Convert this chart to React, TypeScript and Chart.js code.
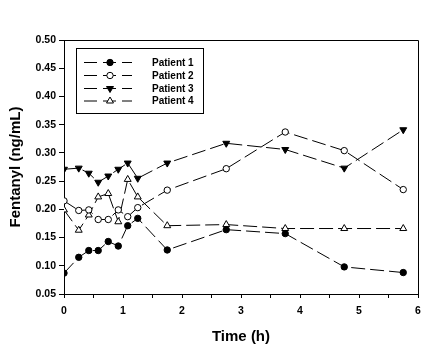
import React, { useEffect, useRef } from "react";
import { Chart, registerables } from "chart.js";

Chart.register(...registerables);

const times = [0, 0.25, 0.42, 0.58, 0.75, 0.92, 1.08, 1.25, 1.75, 2.75, 3.75, 4.75, 5.75];
const patient1 = [0.087, 0.115, 0.127, 0.127, 0.143, 0.135, 0.171, 0.184, 0.128, 0.164, 0.157, 0.098, 0.088];
const patient2 = [0.215, 0.198, 0.199, 0.182, 0.182, 0.199, 0.187, 0.203, 0.234, 0.272, 0.337, 0.304, 0.235];
const patient3 = [0.271, 0.273, 0.264, 0.248, 0.259, 0.271, 0.282, 0.255, 0.282, 0.317, 0.306, 0.273, 0.341];
const patient4 = [0.199, 0.163, 0.190, 0.222, 0.228, 0.178, 0.253, 0.222, 0.171, 0.173, 0.166, 0.166, 0.166];
const seriesNames = ["Patient 1", "Patient 2", "Patient 3", "Patient 4"];
const xTitle = "Time (h)";
const yTitle = "Fentanyl (ng/mL)";

const FONT = "'Liberation Sans', Arial, sans-serif";

type Marker = { style: string; rot: number; fill: string; r: number };
const markers: Marker[] = [
  { style: "circle", rot: 0, fill: "#000", r: 3.2 },
  { style: "circle", rot: 0, fill: "#fff", r: 3.2 },
  { style: "triangle", rot: 180, fill: "#000", r: 4 },
  { style: "triangle", rot: 0, fill: "#fff", r: 4 },
];

function drawMarker(ctx: CanvasRenderingContext2D, m: Marker, x: number, y: number) {
  ctx.save();
  ctx.fillStyle = m.fill;
  ctx.strokeStyle = "#000";
  ctx.lineWidth = 1;
  ctx.beginPath();
  if (m.style === "circle") {
    ctx.arc(x, y, m.r, 0, Math.PI * 2);
  } else {
    const r = m.r;
    const s = m.rot === 180 ? -1 : 1;
    ctx.moveTo(x, y - s * r);
    ctx.lineTo(x + r * 0.87, y + s * r * 0.5);
    ctx.lineTo(x - r * 0.87, y + s * r * 0.5);
    ctx.closePath();
  }
  ctx.fill();
  ctx.stroke();
  ctx.restore();
}

const framePlugin = {
  id: "frame",
  afterDatasetsDraw(chart: any) {
    const { ctx, chartArea: a } = chart;
    ctx.save();
    ctx.strokeStyle = "#000";
    ctx.lineWidth = 1;
    ctx.beginPath();
    ctx.moveTo(Math.round(a.left) + 0.5, Math.round(a.top) + 0.5);
    ctx.lineTo(Math.round(a.right) + 0.5, Math.round(a.top) + 0.5);
    ctx.lineTo(Math.round(a.right) + 0.5, Math.round(a.bottom) + 0.5);
    ctx.stroke();

    // legend
    const bx = 76.5, by = 48.5, bw = 127, bh = 65;
    ctx.fillStyle = "#fff";
    ctx.fillRect(bx, by, bw, bh);
    ctx.strokeRect(bx, by, bw, bh);
    const rows = [62, 75, 88, 100.5];
    seriesNames.forEach((name, i) => {
      const y = rows[i];
      ctx.save();
      ctx.setLineDash([13, 6]);
      ctx.beginPath();
      ctx.moveTo(84, y + 0.5);
      ctx.lineTo(132, y + 0.5);
      ctx.stroke();
      ctx.restore();
      drawMarker(ctx, markers[i], 110, y + 0.5);
      ctx.fillStyle = "#000";
      ctx.font = `bold 10px ${FONT}`;
      ctx.textBaseline = "middle";
      ctx.textAlign = "left";
      ctx.fillText(name, 152, y + 1);
    });
    ctx.restore();
  },
};

export default function App() {
  const ref = useRef<HTMLCanvasElement | null>(null);
  useEffect(() => {
    document.body.style.margin = "0";
    const all = [patient1, patient2, patient3, patient4];
    const chart = new Chart(ref.current as HTMLCanvasElement, {
      type: "line",
      data: {
        datasets: all.map((vals, i) => ({
          label: seriesNames[i],
          data: times.map((t, j) => ({ x: t, y: vals[j] })),
          borderColor: "#000",
          borderWidth: 1,
          borderDash: [14, 5],
          backgroundColor: markers[i].fill,
          pointBackgroundColor: markers[i].fill,
          pointBorderColor: "#000",
          pointBorderWidth: 1,
          pointStyle: markers[i].style as any,
          pointRotation: markers[i].rot,
          pointRadius: markers[i].r,
          tension: 0,
          fill: false,
        })),
      },
      options: {
        animation: false,
        responsive: false,
        devicePixelRatio: 1,
        events: [],
        layout: { padding: { top: 40, right: 21, left: 0, bottom: 0 } },
        plugins: { legend: { display: false }, tooltip: { enabled: false } },
        scales: {
          x: {
            type: "linear",
            min: 0,
            max: 6,
            afterFit: (s: any) => { s.height = 54; },
            ticks: {
              stepSize: 0.5,
              autoSkip: false,
              maxRotation: 0,
              padding: 7,
              color: "#000",
              font: { family: FONT, size: 10.5, weight: "bold" },
              callback: (v: any) => (Number.isInteger(v) ? String(v) : ""),
            },
            grid: { drawOnChartArea: false, drawTicks: true, tickLength: 4, color: "#000" },
            border: { display: true, color: "#000" },
            title: {
              display: true,
              text: xTitle,
              color: "#000",
              font: { family: FONT, size: 15, weight: "bold" },
              padding: { top: 0, bottom: 2 },
            },
          },
          y: {
            type: "linear",
            min: 0.05,
            max: 0.5,
            afterFit: (s: any) => { s.width = 64; },
            ticks: {
              stepSize: 0.05,
              padding: 3,
              color: "#000",
              font: { family: FONT, size: 10.5, weight: "bold" },
              callback: (v: any) => Number(v).toFixed(2),
            },
            grid: { drawOnChartArea: false, drawTicks: true, tickLength: 5, color: "#000" },
            border: { display: true, color: "#000" },
            title: {
              display: true,
              text: yTitle,
              color: "#000",
              font: { family: FONT, size: 15, weight: "bold" },
              padding: { top: 7, bottom: 0 },
            },
          },
        },
      },
      plugins: [framePlugin],
    });
    return () => chart.destroy();
  }, []);
  return <canvas ref={ref} width={439} height={348} style={{ display: "block" }} />;
}
